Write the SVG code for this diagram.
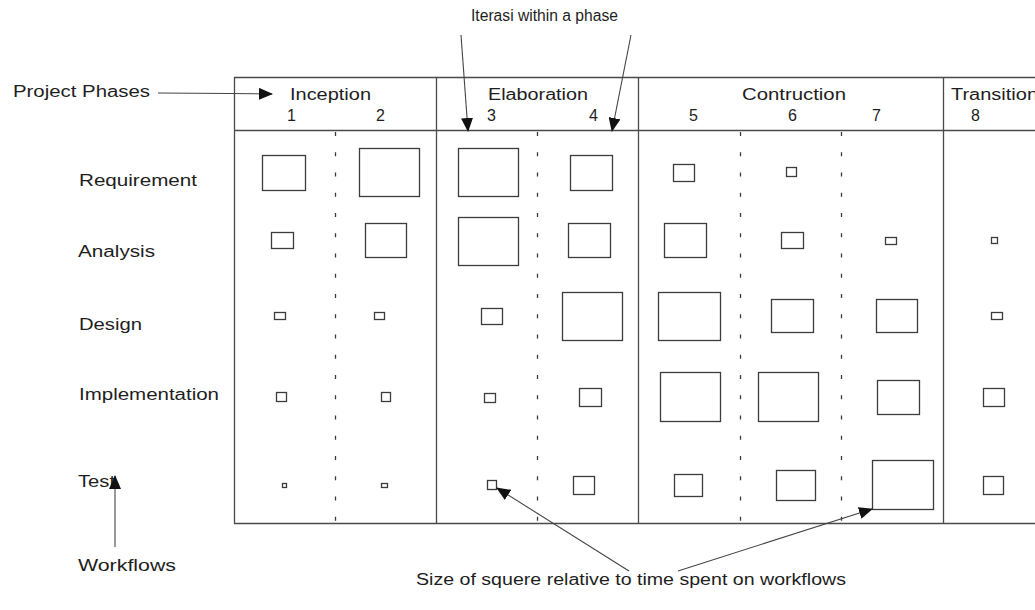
<svg xmlns="http://www.w3.org/2000/svg" width="1035" height="610" viewBox="0 0 1035 610">
  <style>
    .lbl { font-family: "Liberation Sans", Arial, sans-serif; font-size: 16px; fill: #1e1e1e; }
    .grid { stroke: #4a4a4a; stroke-width: 1.3; fill: none; }
    .sub { stroke: #3a3a3a; stroke-width: 1.3; stroke-dasharray: 4 16.25; fill: none; }
    .sq { fill: #ffffff; stroke: #3c3c3c; stroke-width: 1.3; }
    .arrow { stroke: #444; stroke-width: 1.1; fill: none; marker-end: url(#head); }
  </style>
  <defs>
    <marker id="head" markerUnits="userSpaceOnUse" markerWidth="14" markerHeight="12" viewBox="0 0 14 12" refX="13" refY="6" orient="auto">
      <path d="M0,0 L14,6 L0,12 Z" fill="#111"/>
    </marker>
  </defs>

  <rect width="1035" height="610" fill="#ffffff"/>

  <!-- table frame: phase columns and iteration sub-columns -->
  <g id="grid">
    <line class="grid" x1="234" y1="77.5" x2="1035" y2="77.5"/>
    <line class="grid" x1="234" y1="130.5" x2="1035" y2="130.5"/>
    <line class="grid" x1="234" y1="523.5" x2="1035" y2="523.5"/>
    <line class="grid" x1="234.5" y1="77" x2="234.5" y2="524"/>
    <line class="grid" x1="436.5" y1="77" x2="436.5" y2="524"/>
    <line class="grid" x1="638.5" y1="77" x2="638.5" y2="524"/>
    <line class="grid" x1="943.5" y1="77" x2="943.5" y2="524"/>
    <line class="sub" x1="335.5" y1="132" x2="335.5" y2="523"/>
    <line class="sub" x1="537.5" y1="132" x2="537.5" y2="523"/>
    <line class="sub" x1="740.5" y1="132" x2="740.5" y2="523"/>
    <line class="sub" x1="841.5" y1="132" x2="841.5" y2="523"/>
  </g>

  <!-- phase headings and iteration numbers -->
  <g id="phases">
    <text class="lbl" x="290" y="100" textLength="81" lengthAdjust="spacingAndGlyphs">Inception</text>
    <text class="lbl" x="488" y="100" textLength="100" lengthAdjust="spacingAndGlyphs">Elaboration</text>
    <text class="lbl" x="742" y="100" textLength="104" lengthAdjust="spacingAndGlyphs">Contruction</text>
    <text class="lbl" x="951" y="100" textLength="87" lengthAdjust="spacingAndGlyphs">Transition</text>
  </g>
  <g id="iterations">
    <text class="lbl" x="287" y="121">1</text>
    <text class="lbl" x="376" y="121">2</text>
    <text class="lbl" x="487" y="121">3</text>
    <text class="lbl" x="589" y="121">4</text>
    <text class="lbl" x="689" y="121">5</text>
    <text class="lbl" x="788" y="121">6</text>
    <text class="lbl" x="872" y="121">7</text>
    <text class="lbl" x="971" y="121">8</text>
  </g>

  <!-- workflow row labels -->
  <g id="workflows">
    <text class="lbl" x="79" y="186" textLength="118" lengthAdjust="spacingAndGlyphs">Requirement</text>
    <text class="lbl" x="78" y="257" textLength="77" lengthAdjust="spacingAndGlyphs">Analysis</text>
    <text class="lbl" x="79" y="330" textLength="63" lengthAdjust="spacingAndGlyphs">Design</text>
    <text class="lbl" x="79" y="400" textLength="140" lengthAdjust="spacingAndGlyphs">Implementation</text>
    <text class="lbl" x="78" y="487" textLength="37" lengthAdjust="spacingAndGlyphs">Test</text>
  </g>

  <!-- effort squares, one per workflow and iteration -->
  <g id="cells">
    <g id="req">
      <rect class="sq" x="262.5" y="155.5" width="43" height="35"/>
      <rect class="sq" x="359.5" y="148.5" width="60" height="48"/>
      <rect class="sq" x="458.5" y="148.5" width="60" height="48"/>
      <rect class="sq" x="570.5" y="155.5" width="42" height="35"/>
      <rect class="sq" x="673.5" y="164.5" width="21" height="17"/>
      <rect class="sq" x="786.5" y="167.5" width="10" height="9"/>
    </g>
    <g id="ana">
      <rect class="sq" x="271.5" y="232.5" width="22" height="16"/>
      <rect class="sq" x="365.5" y="223.5" width="41" height="34"/>
      <rect class="sq" x="458.5" y="217.5" width="60" height="48"/>
      <rect class="sq" x="568.5" y="223.5" width="42" height="34"/>
      <rect class="sq" x="664.5" y="223.5" width="42" height="34"/>
      <rect class="sq" x="781.5" y="232.5" width="22" height="16"/>
      <rect class="sq" x="885.5" y="237.5" width="11" height="7"/>
      <rect class="sq" x="991.5" y="237.5" width="6" height="6"/>
    </g>
    <g id="des">
      <rect class="sq" x="274.5" y="312.5" width="11" height="7"/>
      <rect class="sq" x="374.5" y="312.5" width="10" height="7"/>
      <rect class="sq" x="481.5" y="308.5" width="21" height="16"/>
      <rect class="sq" x="562.5" y="292.5" width="60" height="48"/>
      <rect class="sq" x="658.5" y="292.5" width="62" height="48"/>
      <rect class="sq" x="771.5" y="299.5" width="42" height="33"/>
      <rect class="sq" x="876.5" y="299.5" width="41" height="33"/>
      <rect class="sq" x="991.5" y="312.5" width="11" height="7"/>
    </g>
    <g id="imp">
      <rect class="sq" x="276.5" y="392.5" width="10" height="9"/>
      <rect class="sq" x="381.5" y="392.5" width="9" height="9"/>
      <rect class="sq" x="484.5" y="393.5" width="11" height="9"/>
      <rect class="sq" x="579.5" y="388.5" width="22" height="18"/>
      <rect class="sq" x="660.5" y="372.5" width="60" height="49"/>
      <rect class="sq" x="758.5" y="372.5" width="60" height="49"/>
      <rect class="sq" x="877.5" y="380.5" width="42" height="34"/>
      <rect class="sq" x="983.5" y="388.5" width="21" height="18"/>
    </g>
    <g id="tst">
      <rect class="sq" x="282.5" y="483.5" width="4" height="4"/>
      <rect class="sq" x="381.5" y="483.5" width="6" height="4"/>
      <rect class="sq" x="487.5" y="480.5" width="9" height="9"/>
      <rect class="sq" x="573.5" y="476.5" width="21" height="18"/>
      <rect class="sq" x="674.5" y="474.5" width="28" height="22"/>
      <rect class="sq" x="776.5" y="470.5" width="39" height="30"/>
      <rect class="sq" x="872.5" y="460.5" width="61" height="49"/>
      <rect class="sq" x="983.5" y="476.5" width="20" height="18"/>
    </g>
  </g>

  <!-- callout captions -->
  <g id="captions">
    <text id="cap-iter" class="lbl" x="471" y="21" textLength="147" lengthAdjust="spacingAndGlyphs" font-size="15">Iterasi within a phase</text>
    <text id="cap-phases" class="lbl" x="13" y="97" textLength="137" lengthAdjust="spacingAndGlyphs">Project Phases</text>
    <text id="cap-workflows" class="lbl" x="78" y="571" textLength="98" lengthAdjust="spacingAndGlyphs">Workflows</text>
    <text id="cap-size" class="lbl" x="416" y="585" textLength="430" lengthAdjust="spacingAndGlyphs">Size of squere relative to time spent on workflows</text>
  </g>

  <!-- callout arrows -->
  <g id="connectors">
    <path class="arrow" d="M158,93 L230,93.5 L272,94"/>
    <line class="arrow" x1="461" y1="35" x2="468" y2="131"/>
    <line class="arrow" x1="631" y1="35" x2="612" y2="131"/>
    <line class="arrow" x1="115" y1="547" x2="115" y2="476"/>
    <line class="arrow" x1="629" y1="571" x2="497" y2="488"/>
    <line class="arrow" x1="678" y1="571" x2="872" y2="509"/>
  </g>
</svg>
